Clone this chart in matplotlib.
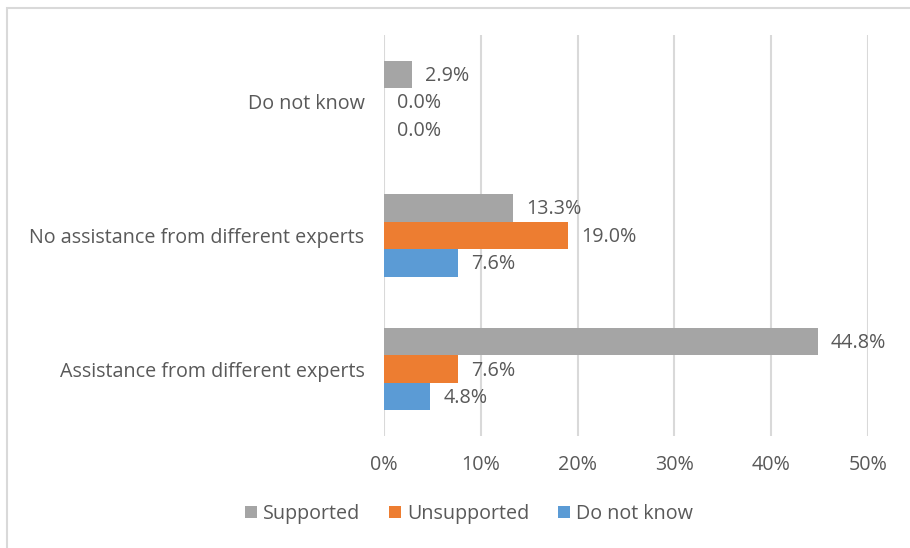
import numpy as np
import matplotlib.pyplot as plt
from matplotlib.patches import Rectangle
from matplotlib.ticker import FuncFormatter

plt.rcParams['font.family'] = ['Open Sans', 'DejaVu Sans']

categories = ['Assistance from different experts',
              'No assistance from different experts',
              'Do not know']
series = ['Supported', 'Unsupported', 'Do not know']
supported = [44.8, 13.3, 2.9]
unsupported = [7.6, 19.0, 0.0]
dont_know = [4.8, 7.6, 0.0]
colors = ['#A5A5A5', '#ED7D31', '#5B9BD5']

text_color = '#595959'
fs = 14.2
fig = plt.figure(figsize=(9.1, 5.48), dpi=100)
ax = fig.add_axes([0.422, 0.2044, 0.532, 0.7316])

# thin frame around the chart area
fig.patches.append(Rectangle((7 / 910, -0.01), 1.0, 1 - 8 / 548 + 0.01,
                             transform=fig.transFigure, fill=False,
                             edgecolor='#D9D9D9', linewidth=1.5))

y = np.arange(len(categories))
h = 0.206
offsets = [h, 0, -h]
for vals, name, col, off in zip([supported, unsupported, dont_know], series, colors, offsets):
    bars = ax.barh(y + off, vals, height=h, color=col, label=name, zorder=3)
    for b, v in zip(bars, vals):
        ax.text(v + 1.35, b.get_y() + b.get_height() / 2 - 0.01, f'{v:.1f}%',
                va='center', ha='left', fontsize=fs, color=text_color)

ax.set_xlim(0, 50)
ax.set_ylim(-0.5, 2.5)
ax.set_xticks(np.arange(0, 51, 10))
ax.xaxis.set_major_formatter(FuncFormatter(lambda v, p: f'{v:.0f}%'))
ax.set_yticks(y)
ax.set_yticklabels(categories)
ax.grid(axis='x', color='#D9D9D9', linewidth=1.5, zorder=0)
for s in ax.spines.values():
    s.set_visible(False)
ax.tick_params(length=0, labelsize=fs, colors=text_color)
ax.tick_params(axis='x', pad=14)
ax.tick_params(axis='y', pad=14)

ax.legend(loc='center', bbox_to_anchor=(0.515, 0.062), bbox_transform=fig.transFigure,
          ncol=3, frameon=False, fontsize=fs, labelcolor=text_color,
          handlelength=0.62, handleheight=0.62, handletextpad=0.3, columnspacing=1.45)

fig.savefig('out.png', dpi=100, facecolor='white')
